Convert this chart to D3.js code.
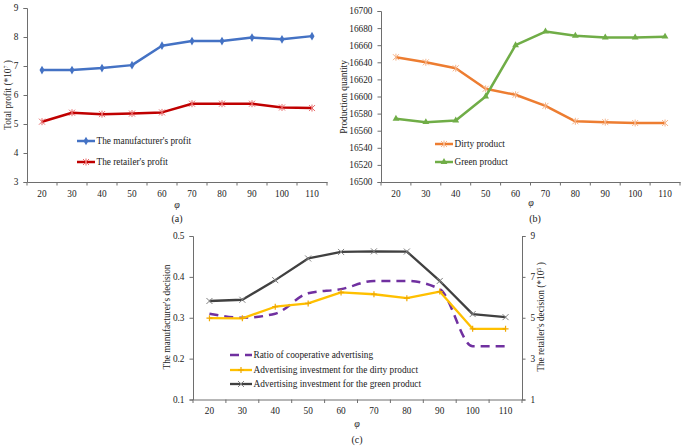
<!DOCTYPE html>
<html><head><meta charset="utf-8">
<script src="https://cdn.jsdelivr.net/npm/d3@7"></script>
<style>
body{margin:0;background:#fff;}
text{font-family:"Liberation Serif","Times New Roman",serif;fill:#222;}
</style></head>
<body><svg id="c" width="685" height="446"></svg>
<script>
const phi = [20,30,40,50,60,70,80,90,100,110];
const manufacturerProfit = [6.86,6.86,6.93,7.03,7.70,7.86,7.86,7.98,7.92,8.03];
const retailerProfit = [5.08,5.39,5.34,5.36,5.40,5.70,5.70,5.70,5.57,5.55];
const dirtyQty = [16646,16640,16633,16609,16602,16589,16571,16570,16569,16569];
const greenQty = [16574,16570,16572,16600,16660,16676,16671,16669,16669,16670];
const coopRatio = [0.31,0.30,0.31,0.36,0.37,0.39,0.39,0.37,0.23,0.23];
const dirtyAd = [4.98,4.97,5.54,5.70,6.24,6.15,5.96,6.28,4.46,4.46];
const greenAd = [5.82,5.88,6.84,7.90,8.22,8.25,8.24,6.80,5.18,5.03];
const ticksA = [3,4,5,6,7,8,9];
const ticksB = [16500,16520,16540,16560,16580,16600,16620,16640,16660,16680,16700];
const ticksCL = [0.1,0.2,0.3,0.4,0.5];
const ticksCR = [1,3,5,7,9];

const svg = d3.select("#c");
const AX = "#6e6e6e";
const FS = 9.3;

function marker(g, type, x, y, color){
  const s = 3;
  if(type==="diamond"){
    g.append("path").attr("d",d3.symbol(d3.symbolDiamond,22)()).attr("transform",`translate(${x},${y})`).attr("fill",color);
  } else if(type==="triangle"){
    g.append("path").attr("d",d3.symbol(d3.symbolTriangle,20)()).attr("transform",`translate(${x},${y})`).attr("fill",color);
  } else if(type==="star"){
    g.append("path").attr("d",`M${x-s},${y-s}L${x+s},${y+s}M${x-s},${y+s}L${x+s},${y-s}M${x},${y-s-0.5}L${x},${y+s+0.5}`).attr("stroke",color).attr("stroke-width",1).attr("fill","none");
  } else if(type==="x"){
    g.append("path").attr("d",`M${x-s},${y-s}L${x+s},${y+s}M${x-s},${y+s}L${x+s},${y-s}`).attr("stroke",color).attr("stroke-width",1).attr("fill","none");
  } else if(type==="plus"){
    g.append("path").attr("d",`M${x-s},${y}L${x+s},${y}M${x},${y-s}L${x},${y+s}`).attr("stroke",color).attr("stroke-width",1.2).attr("fill","none");
  }
}

function panel(opt){
  const g = svg.append("g");
  const x = d3.scaleBand().domain(phi).range([opt.x0,opt.x1]).paddingInner(0).paddingOuter(0);
  const y = d3.scaleLinear().domain(opt.yDomain).range([opt.yb,opt.yt]);
  const xa = g.append("g").attr("transform",`translate(0,${opt.yb})`)
    .call(d3.axisBottom(x).tickSize(0).tickPadding(8));
  xa.select(".domain").attr("stroke",AX);
  xa.selectAll("text").style("font-size",FS+"px").attr("fill","#222").attr("font-family","Liberation Serif");
  const bounds = phi.map(v=>x(v)).concat([opt.x1]);
  g.selectAll(".bt").data(bounds).enter().append("line")
    .attr("x1",d=>d).attr("x2",d=>d).attr("y1",opt.yb).attr("y2",opt.yb+3.5).attr("stroke",AX);
  const ya = g.append("g").attr("transform",`translate(${opt.x0},0)`)
    .call(d3.axisLeft(y).tickValues(opt.ticks).tickSize(3.5).tickPadding(5).tickFormat(opt.fmt||d3.format("")));
  ya.select(".domain").attr("stroke",AX);
  ya.selectAll(".tick line").attr("stroke",AX);
  ya.selectAll("text").style("font-size",FS+"px").attr("fill","#222").attr("font-family","Liberation Serif");
  return {g,x,y};
}

function drawSeries(p, data, color, width, mtype, yScale, opts={}){
  const line = d3.line().x((d,i)=>p.x(phi[i])+p.x.bandwidth()/2).y(d=>yScale(d));
  if(opts.curve) line.curve(opts.curve);
  const path = p.g.append("path").datum(data).attr("d",line).attr("fill","none")
    .attr("stroke",color).attr("stroke-width",width).attr("stroke-linejoin","round");
  if(opts.dash) path.attr("stroke-dasharray",opts.dash);
  if(mtype) data.forEach((d,i)=>marker(p.g,mtype,p.x(phi[i])+p.x.bandwidth()/2,yScale(d),opts.mcolor||color));
}

function legendRow(g, x0, x1, y, color, width, mtype, label, opts={}){
  const l = g.append("line").attr("x1",x0).attr("x2",x1).attr("y1",y).attr("y2",y).attr("stroke",color).attr("stroke-width",width);
  if(opts.dash) l.attr("stroke-dasharray",opts.dash);
  if(mtype) marker(g,mtype,(x0+x1)/2,y,opts.mcolor||color);
  g.append("text").attr("x",x1+1.5).attr("y",y).attr("dy","0.35em").style("font-size",FS+"px").text(label);
}

// ---- Panel (a)
const pa = panel({x0:27,x1:327,yb:182,yt:8,yDomain:[3,9],ticks:ticksA});
drawSeries(pa, manufacturerProfit, "#4472C4", 2.5, "diamond", pa.y);
drawSeries(pa, retailerProfit, "#C00000", 2.5, "star", pa.y, {mcolor:"#e86a6a"});
legendRow(pa.g,77,95,141,"#4472C4",2.5,"diamond","The manufacturer's profit");
legendRow(pa.g,77,95,162,"#C00000",2.5,"star","The retailer's profit",{mcolor:"#e86a6a"});
{
  const t = svg.append("text").attr("transform","translate(11,95) rotate(-90)").attr("text-anchor","middle").style("font-size",FS+"px");
  t.append("tspan").text("Total profit (*10");
  t.append("tspan").attr("dy",-3).style("font-size","6px").text("7");
  t.append("tspan").attr("dy",3).text(" )");
}
svg.append("text").attr("x",177).attr("y",208).attr("text-anchor","middle").style("font-size","10px").style("font-style","italic").text("φ");
svg.append("text").attr("x",177).attr("y",222).attr("text-anchor","middle").style("font-size","10px").text("(a)");

// ---- Panel (b)
const pb = panel({x0:381,x1:680,yb:182,yt:11,yDomain:[16500,16700],ticks:ticksB});
drawSeries(pb, dirtyQty, "#ED7D31", 2.5, "star", pb.y, {mcolor:"#f5b48a"});
drawSeries(pb, greenQty, "#70AD47", 2.5, "triangle", pb.y);
legendRow(pb.g,435,453,144,"#ED7D31",2.5,"star","Dirty product",{mcolor:"#f5b48a"});
legendRow(pb.g,435,453,162,"#70AD47",2.5,"triangle","Green product");
svg.append("text").attr("transform","translate(347,97) rotate(-90)").attr("text-anchor","middle").style("font-size",FS+"px").text("Production quantity");
svg.append("text").attr("x",531).attr("y",206).attr("text-anchor","middle").style("font-size","10px").style("font-style","italic").text("φ");
svg.append("text").attr("x",535).attr("y",222).attr("text-anchor","middle").style("font-size","10px").text("(b)");

// ---- Panel (c)
const pc = panel({x0:193,x1:522,yb:399.5,yt:236,yDomain:[0.1,0.5],ticks:ticksCL,fmt:d3.format(".1f")});
const yR = d3.scaleLinear().domain([1,9]).range([399.5,236]);
const ra = pc.g.append("g").attr("transform","translate(522,0)")
  .call(d3.axisRight(yR).tickValues(ticksCR).tickSize(3.5).tickPadding(5));
ra.select(".domain").attr("stroke",AX);
ra.selectAll(".tick line").attr("stroke",AX);
ra.selectAll("text").style("font-size",FS+"px").attr("fill","#222").attr("font-family","Liberation Serif");
drawSeries(pc, coopRatio, "#7030A0", 2.5, null, pc.y, {curve:d3.curveMonotoneX, dash:"9,6"});
drawSeries(pc, dirtyAd, "#FFC000", 2.3, "plus", yR, {mcolor:"#f0a800"});
drawSeries(pc, greenAd, "#404040", 2.3, "x", yR, {mcolor:"#808080"});
legendRow(pc.g,230,252,355,"#7030A0",2.5,null,"Ratio of cooperative advertising",{dash:"9,6"});
legendRow(pc.g,230,252,370,"#FFC000",2.3,"plus","Advertising investment for the dirty product",{mcolor:"#f0a800"});
legendRow(pc.g,230,252,384,"#404040",2.3,"x","Advertising investment for the green product",{mcolor:"#808080"});
svg.append("text").attr("transform","translate(170,317) rotate(-90)").attr("text-anchor","middle").style("font-size",FS+"px").text("The manufacturer's decision");
{
  const t = svg.append("text").attr("transform","translate(544,317) rotate(-90)").attr("text-anchor","middle").style("font-size",FS+"px");
  t.append("tspan").text("The retailer's decision (*10");
  t.append("tspan").attr("dy",-3).style("font-size","6px").text("5");
  t.append("tspan").attr("dy",3).text(" )");
}
svg.append("text").attr("x",357).attr("y",427).attr("text-anchor","middle").style("font-size","10px").style("font-style","italic").text("φ");
svg.append("text").attr("x",357).attr("y",443).attr("text-anchor","middle").style("font-size","10px").text("(c)");
</script></body></html>
